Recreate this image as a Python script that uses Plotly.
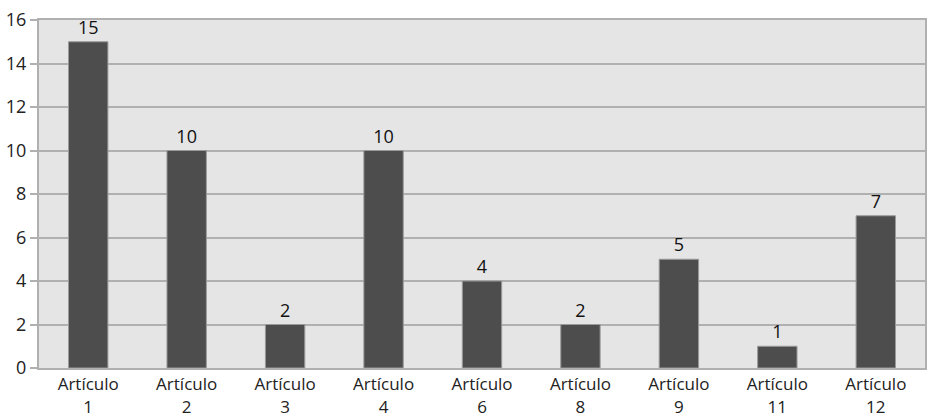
import plotly.graph_objects as go

categories = ["Artículo<br>1", "Artículo<br>2", "Artículo<br>3", "Artículo<br>4", "Artículo<br>6",
              "Artículo<br>8", "Artículo<br>9", "Artículo<br>11", "Artículo<br>12"]
values = [15, 10, 2, 10, 4, 2, 5, 1, 7]
y_ticks = [0, 2, 4, 6, 8, 10, 12, 14, 16]

fig = go.Figure(go.Bar(
    x=categories, y=values, width=0.4,
    marker=dict(color="#4d4d4d", line=dict(color="#9a9a9a", width=1)),
    text=[str(v) for v in values], textposition="outside",
    textfont=dict(family="Open Sans", size=18, color="#111111"),
    cliponaxis=False,
))
fig.update_layout(
    width=928, height=418,
    margin=dict(l=39, r=3, t=20, b=50, autoexpand=False),
    paper_bgcolor="white", plot_bgcolor="#e5e5e5",
    font=dict(family="Open Sans", size=18, color="#222222"),
    showlegend=False,
    bargap=0.6,
)
fig.update_xaxes(showline=True, linecolor="#b0b0b0", linewidth=2, mirror=True,
                 tickfont=dict(size=17), ticks="", automargin=False, ticklabelstandoff=0)
fig.update_yaxes(range=[0, 16], tickvals=y_ticks, showgrid=True, gridcolor="#b0b0b0", gridwidth=1.5,
                 ticks="outside", ticklen=7, tickcolor="#b0b0b0", tickwidth=1.5,
                 showline=True, linecolor="#b0b0b0", linewidth=2, mirror=True,
                 zeroline=False, tickfont=dict(size=18), automargin=False)
fig.write_html("out.html")
